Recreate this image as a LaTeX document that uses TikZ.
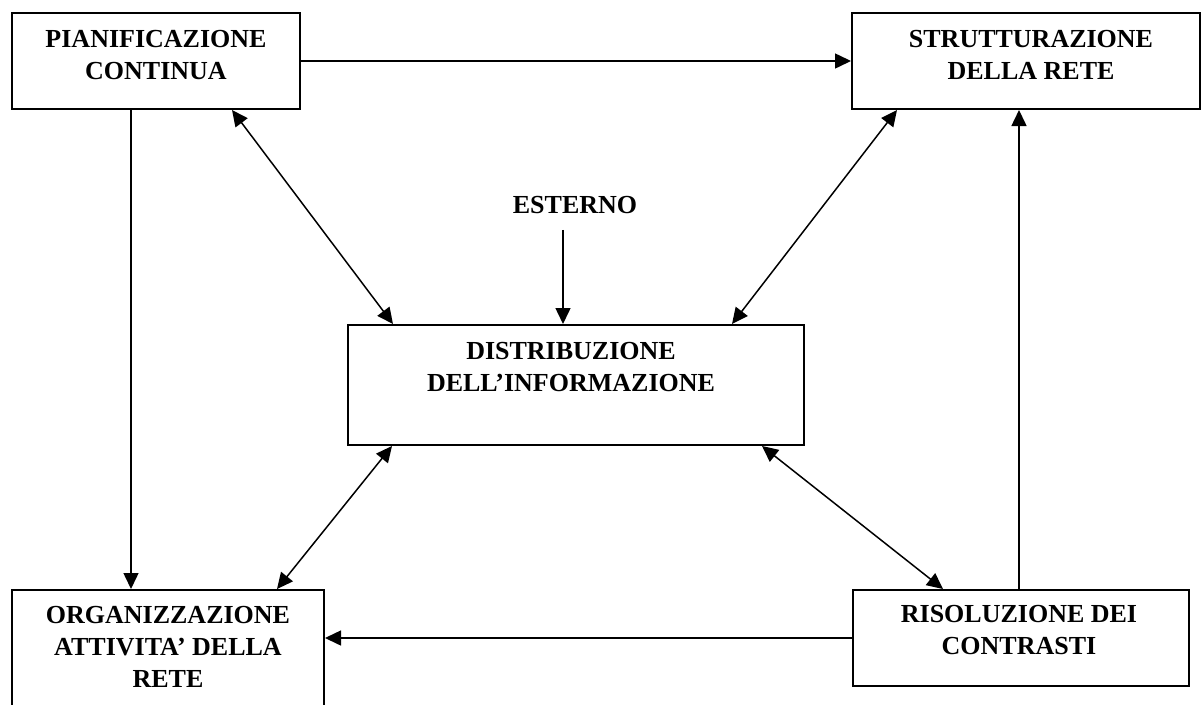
\documentclass[tikz,border=0pt]{standalone}
\usepackage{fontspec}
\setmainfont{Liberation Serif}
\usetikzlibrary{arrows.meta}
\begin{document}
\begin{tikzpicture}[x=1pt,y=-1pt,
  box/.style={draw,line width=2pt,rectangle,inner sep=0pt,anchor=north west},
  lbl/.style={anchor=north,inner sep=0pt,align=center,
    font=\fontsize{26}{32}\selectfont\bfseries},
  tip/.tip={Triangle[length=16pt,width=15pt]},
  conn/.style={line width=1.5pt,-tip},
  both/.style={line width=1.5pt,tip-tip}]
\useasboundingbox (0,0) rectangle (1201,704);
\clip (0,0) rectangle (1201,704);

% boxes
\node[box,minimum width=288pt,minimum height=96pt] (p) at (11,12) {};
\node[box,minimum width=348pt,minimum height=96pt] (s) at (851,12) {};
\node[box,minimum width=456pt,minimum height=120pt] (d) at (347,324) {};
\node[box,minimum width=312pt,minimum height=130pt] (o) at (11,589) {};
\node[box,minimum width=336pt,minimum height=96pt] (r) at (852,589) {};

% box captions
\node[lbl] (pt) at ([yshift=-18pt]p.north) {PIANIFICAZIONE\\CONTINUA};
\node[lbl] (st) at ([yshift=-18pt,xshift=5pt]s.north) {STRUTTURAZIONE\\DELLA RETE};
\node[lbl] (dt) at ([yshift=-18pt,xshift=-5pt]d.north) {DISTRIBUZIONE\\DELL’INFORMAZIONE};
\node[lbl] (ot) at ([yshift=-17pt]o.north) {ORGANIZZAZIONE\\ATTIVITA’ DELLA\\RETE};
\node[lbl] (rt) at ([yshift=-16pt,xshift=-2pt]r.north) {RISOLUZIONE DEI\\CONTRASTI};

% external input
\node[lbl] (e) at (575,196) {ESTERNO};

% connectors
\draw[conn] (p.east) -- (s.west);
\draw[conn] ([xshift=120pt]p.south west) -- ([xshift=120pt]o.north west);
\draw[conn] ([xshift=167pt]r.north west) -- ([xshift=168pt]s.south west);
\draw[conn] (r.west) -- (r.west -| o.east);
\draw[conn] ([xshift=-12pt,yshift=-16pt]e.south) -- ([xshift=-12pt]e.south |- d.north);
\draw[both] ([xshift=221pt]p.south west) -- ([xshift=46pt]d.north west);
\draw[both] ([xshift=46pt]s.south west) -- ([xshift=385pt]d.north west);
\draw[both] ([xshift=45pt]d.south west) -- ([xshift=266pt]o.north west);
\draw[both] ([xshift=415pt]d.south west) -- ([xshift=91pt]r.north west);
\end{tikzpicture}
\end{document}
